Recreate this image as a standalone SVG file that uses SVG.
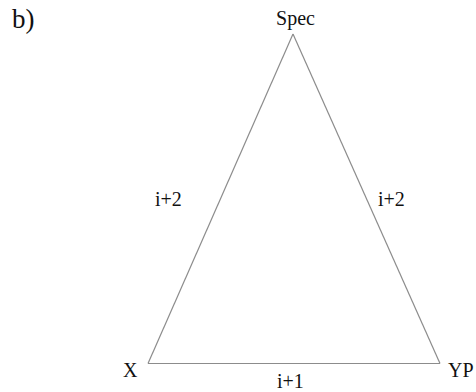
<svg xmlns="http://www.w3.org/2000/svg" width="476" height="392" viewBox="0 0 476 392">
<style>
.edge{stroke:#8c8c8c;stroke-width:1.2;fill:none}
</style>
<rect width="476" height="392" fill="#fff"/>
<g font-family="'Liberation Serif', 'DejaVu Serif', serif" font-size="20" fill="#111">
<text x="12" y="28" font-size="27">b)</text>
<g id="connectors">
<line class="edge" x1="293" y1="34" x2="148" y2="363.5"/>
<line class="edge" x1="293" y1="34" x2="440" y2="363.5"/>
<line class="edge" x1="148" y1="363.5" x2="440" y2="363.5"/>
<text x="155" y="206">i+2</text>
<text x="378" y="206">i+2</text>
<text x="277" y="388">i+1</text>
</g>
<g id="spec"><text x="295.5" y="25" text-anchor="middle">Spec</text></g>
<g id="x"><text x="123" y="377">X</text></g>
<g id="yp"><text x="448" y="377">YP</text></g>
</g>
</svg>
